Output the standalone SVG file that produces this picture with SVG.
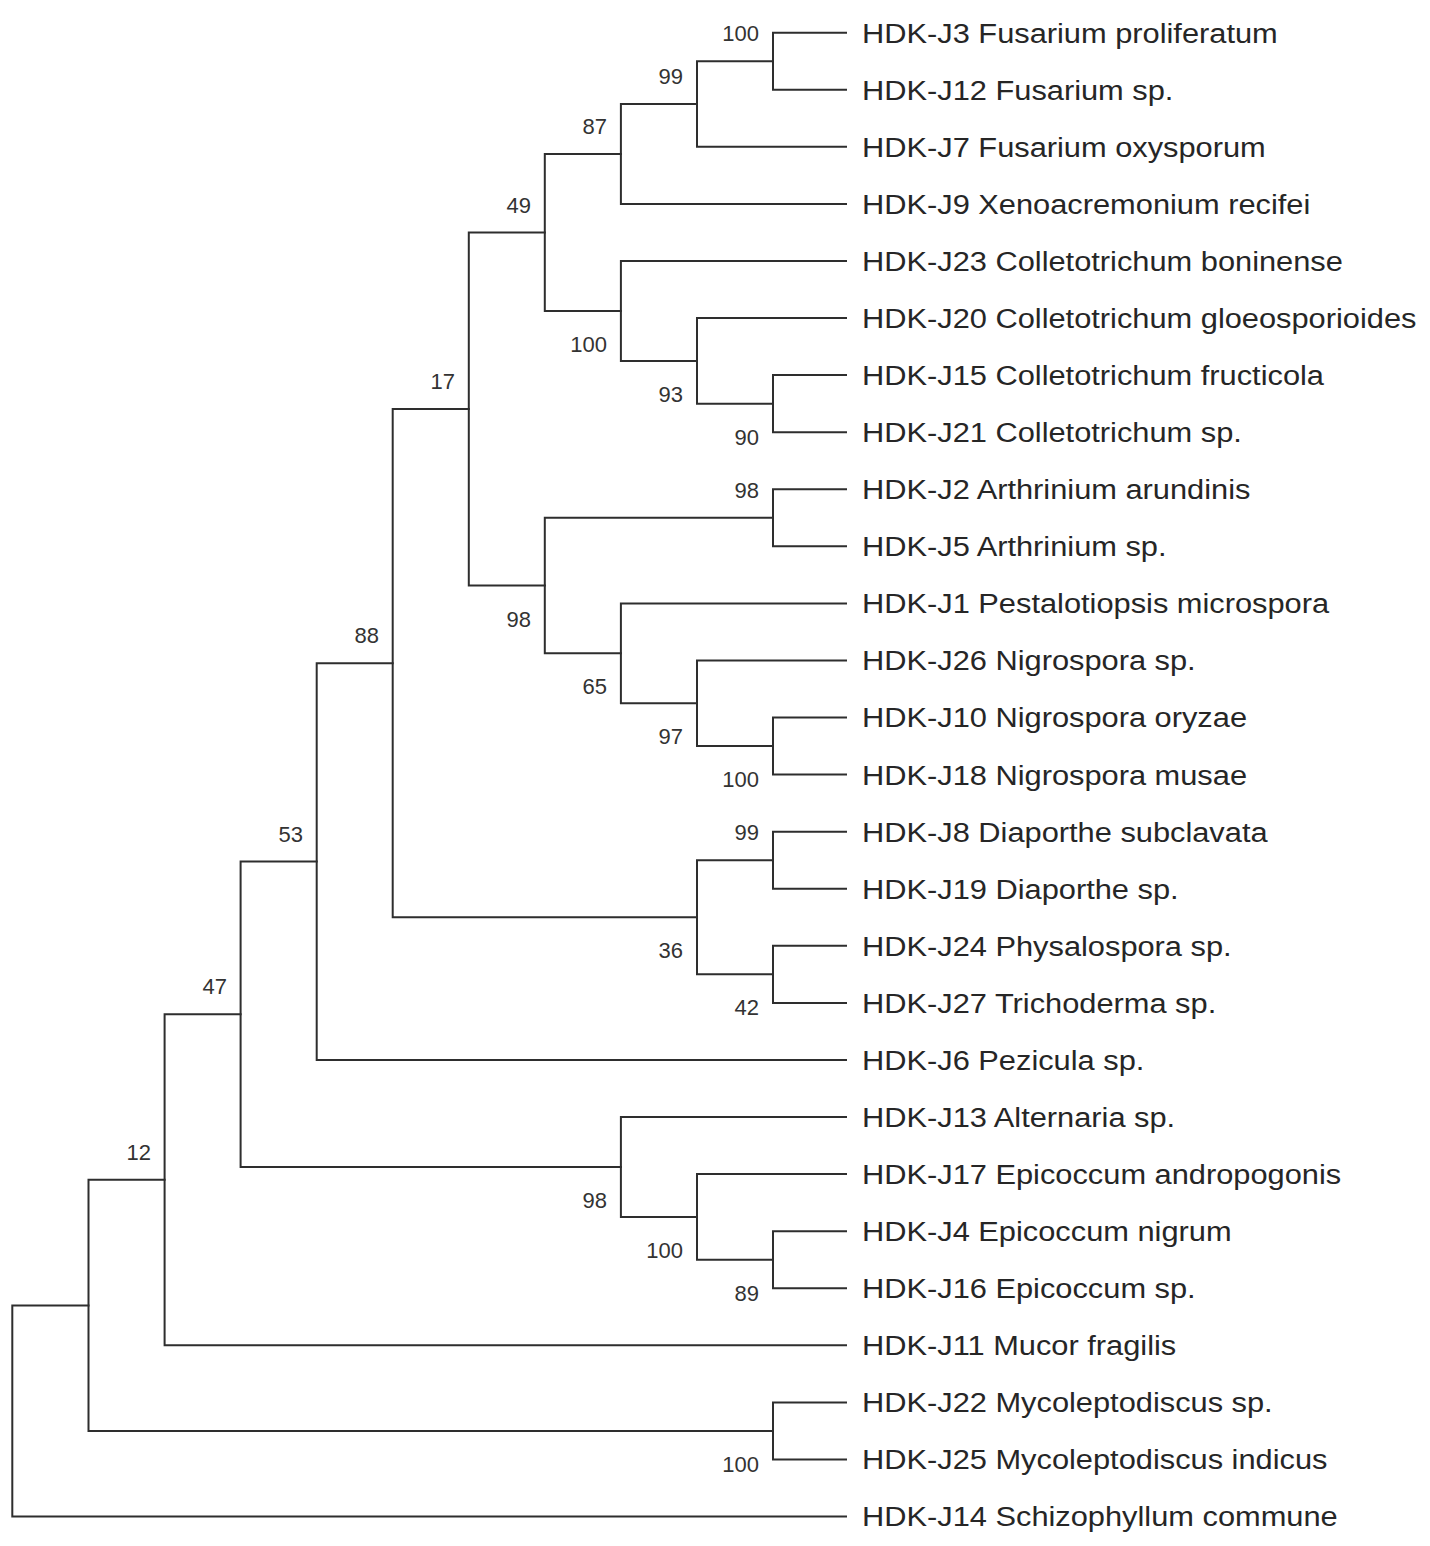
<svg xmlns="http://www.w3.org/2000/svg" width="1430" height="1546" viewBox="0 0 1430 1546">
<style>
.br{fill:none;stroke:#2e2e2e;stroke-width:2;stroke-linecap:square;stroke-linejoin:miter}
.lf{font-family:"Liberation Sans",Arial,sans-serif;font-size:28px;fill:#262626}
.bs{font-family:"Liberation Sans",Arial,sans-serif;font-size:22px;fill:#333333;text-anchor:end}
</style>
<rect width="1430" height="1546" fill="#ffffff"/>
<g id="connectors">
<path class="br" d="M846,32.7 H773 V89.8 H846"/>
<path class="br" d="M773,61.25 H697 V146.8 H846"/>
<path class="br" d="M697,104 H620.9 V203.9 H846"/>
<path class="br" d="M846,375.1 H773 V432.2 H846"/>
<path class="br" d="M846,318.1 H697 V403.65 H773"/>
<path class="br" d="M846,261 H620.9 V360.9 H697"/>
<path class="br" d="M620.9,153.95 H544.8 V310.95 H620.9"/>
<path class="br" d="M846,489.3 H773 V546.3 H846"/>
<path class="br" d="M846,717.5 H773 V774.6 H846"/>
<path class="br" d="M846,660.5 H697 V746.05 H773"/>
<path class="br" d="M846,603.4 H620.9 V703.3 H697"/>
<path class="br" d="M773,517.8 H544.8 V653.35 H620.9"/>
<path class="br" d="M544.8,232.45 H468.8 V585.6 H544.8"/>
<path class="br" d="M846,831.7 H773 V888.8 H846"/>
<path class="br" d="M846,945.8 H773 V1002.9 H846"/>
<path class="br" d="M773,860.25 H697 V974.35 H773"/>
<path class="br" d="M468.8,409 H392.7 V917.3 H697"/>
<path class="br" d="M392.7,663.15 H316.7 V1060 H846"/>
<path class="br" d="M846,1231.2 H773 V1288.2 H846"/>
<path class="br" d="M846,1174.1 H697 V1259.7 H773"/>
<path class="br" d="M846,1117 H620.9 V1216.9 H697"/>
<path class="br" d="M316.7,861.6 H240.6 V1166.95 H620.9"/>
<path class="br" d="M240.6,1014.3 H164.6 V1345.3 H846"/>
<path class="br" d="M846,1402.4 H773 V1459.5 H846"/>
<path class="br" d="M164.6,1179.8 H88.5 V1430.95 H773"/>
<path class="br" d="M88.5,1305.4 H12.3 V1516.5 H846"/>
</g>
<g id="leaves" transform="matrix(1.1,0,0,1,-86.2,0)">
<g id="leaf-J3"><text class="lf" x="862" y="42.7">HDK-J3 Fusarium proliferatum</text></g>
<g id="leaf-J12"><text class="lf" x="862" y="99.8">HDK-J12 Fusarium sp.</text></g>
<g id="leaf-J7"><text class="lf" x="862" y="156.8">HDK-J7 Fusarium oxysporum</text></g>
<g id="leaf-J9"><text class="lf" x="862" y="213.9">HDK-J9 Xenoacremonium recifei</text></g>
<g id="leaf-J23"><text class="lf" x="862" y="271">HDK-J23 Colletotrichum boninense</text></g>
<g id="leaf-J20"><text class="lf" x="862" y="328.1">HDK-J20 Colletotrichum gloeosporioides</text></g>
<g id="leaf-J15"><text class="lf" x="862" y="385.1">HDK-J15 Colletotrichum fructicola</text></g>
<g id="leaf-J21"><text class="lf" x="862" y="442.2">HDK-J21 Colletotrichum sp.</text></g>
<g id="leaf-J2"><text class="lf" x="862" y="499.3">HDK-J2 Arthrinium arundinis</text></g>
<g id="leaf-J5"><text class="lf" x="862" y="556.3">HDK-J5 Arthrinium sp.</text></g>
<g id="leaf-J1"><text class="lf" x="862" y="613.4">HDK-J1 Pestalotiopsis microspora</text></g>
<g id="leaf-J26"><text class="lf" x="862" y="670.5">HDK-J26 Nigrospora sp.</text></g>
<g id="leaf-J10"><text class="lf" x="862" y="727.5">HDK-J10 Nigrospora oryzae</text></g>
<g id="leaf-J18"><text class="lf" x="862" y="784.6">HDK-J18 Nigrospora musae</text></g>
<g id="leaf-J8"><text class="lf" x="862" y="841.7">HDK-J8 Diaporthe subclavata</text></g>
<g id="leaf-J19"><text class="lf" x="862" y="898.8">HDK-J19 Diaporthe sp.</text></g>
<g id="leaf-J24"><text class="lf" x="862" y="955.8">HDK-J24 Physalospora sp.</text></g>
<g id="leaf-J27"><text class="lf" x="862" y="1012.9">HDK-J27 Trichoderma sp.</text></g>
<g id="leaf-J6"><text class="lf" x="862" y="1070">HDK-J6 Pezicula sp.</text></g>
<g id="leaf-J13"><text class="lf" x="862" y="1127">HDK-J13 Alternaria sp.</text></g>
<g id="leaf-J17"><text class="lf" x="862" y="1184.1">HDK-J17 Epicoccum andropogonis</text></g>
<g id="leaf-J4"><text class="lf" x="862" y="1241.2">HDK-J4 Epicoccum nigrum</text></g>
<g id="leaf-J16"><text class="lf" x="862" y="1298.2">HDK-J16 Epicoccum sp.</text></g>
<g id="leaf-J11"><text class="lf" x="862" y="1355.3">HDK-J11 Mucor fragilis</text></g>
<g id="leaf-J22"><text class="lf" x="862" y="1412.4">HDK-J22 Mycoleptodiscus sp.</text></g>
<g id="leaf-J25"><text class="lf" x="862" y="1469.5">HDK-J25 Mycoleptodiscus indicus</text></g>
<g id="leaf-J14"><text class="lf" x="862" y="1526.5">HDK-J14 Schizophyllum commune</text></g>
</g>
<g id="internal-nodes">
<g id="node-J3-J12"><text class="bs" x="759" y="41.3">100</text></g>
<g id="node-fus3"><text class="bs" x="683" y="84">99</text></g>
<g id="node-fus-xeno"><text class="bs" x="607" y="134">87</text></g>
<g id="node-fus-colle"><text class="bs" x="531" y="212.5">49</text></g>
<g id="node-colle"><text class="bs" x="607" y="352">100</text></g>
<g id="node-colle3"><text class="bs" x="683" y="402">93</text></g>
<g id="node-J15-J21"><text class="bs" x="759" y="444.7">90</text></g>
<g id="node-upper"><text class="bs" x="455" y="389">17</text></g>
<g id="node-arthr"><text class="bs" x="759" y="497.8">98</text></g>
<g id="node-arthr-nigro"><text class="bs" x="531" y="626.6">98</text></g>
<g id="node-pest-nigro"><text class="bs" x="607" y="694.4">65</text></g>
<g id="node-nigro"><text class="bs" x="683" y="744.3">97</text></g>
<g id="node-J10-J18"><text class="bs" x="759" y="787">100</text></g>
<g id="node-G"><text class="bs" x="379" y="643">88</text></g>
<g id="node-diap"><text class="bs" x="759" y="840.3">99</text></g>
<g id="node-diap-tricho"><text class="bs" x="683" y="958.3">36</text></g>
<g id="node-J24-J27"><text class="bs" x="759" y="1015.4">42</text></g>
<g id="node-E"><text class="bs" x="303" y="841.6">53</text></g>
<g id="node-D"><text class="bs" x="227" y="994.3">47</text></g>
<g id="node-alt-epi"><text class="bs" x="607" y="1208">98</text></g>
<g id="node-epi"><text class="bs" x="683" y="1258">100</text></g>
<g id="node-J4-J16"><text class="bs" x="759" y="1300.7">89</text></g>
<g id="node-B"><text class="bs" x="151" y="1159.8">12</text></g>
<g id="node-myco"><text class="bs" x="759" y="1472">100</text></g>
<g id="node-A"></g>
<g id="node-root"></g>
</g>
</svg>
